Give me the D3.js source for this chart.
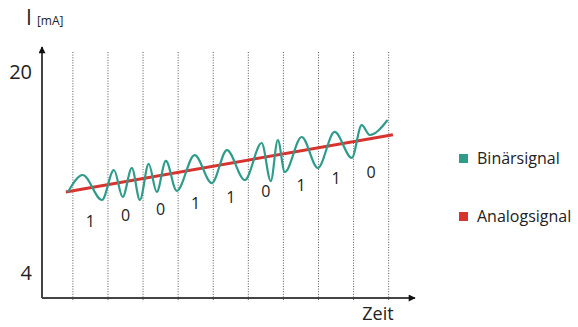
<!DOCTYPE html>
<html><head><meta charset="utf-8">
<script src="https://cdn.jsdelivr.net/npm/d3@7"></script>
<style>body{margin:0;background:#fff}svg{display:block}text{font-family:"Open Sans",sans-serif;fill:#222}</style>
</head><body>
<svg id="c" width="578" height="327"></svg>
<script>
// ---- data ----
const bits = [1, 0, 0, 1, 1, 0, 1, 1, 0];
const yTickValues = [4, 20];
const yTickLabels = ["4", "20"];
// analog signal: start/end (time in bit units, current in mA)
const analogT = [-0.2, 9.12];
const analogI = [10.45, 15.0];
// binary (FSK) signal: extrema (time in bit units, current in mA)
const waveT = [-0.14, 0.28, 0.83, 1.17, 1.42, 1.68, 1.91, 2.16, 2.39, 2.65, 2.96, 3.47, 3.96, 4.39, 4.90, 5.38, 5.64, 5.84, 6.04, 6.52, 6.98, 7.46, 7.95, 8.23, 8.46, 8.97];
const waveI = [10.45, 11.80, 9.81, 12.20, 10.05, 12.36, 9.81, 12.68, 10.45, 12.92, 10.53, 13.39, 11.16, 13.79, 11.40, 14.35, 11.32, 14.59, 12.04, 14.83, 12.36, 15.23, 13.16, 15.78, 14.99, 16.18];
const legendLabels = ["Binärsignal", "Analogsignal"];
const colors = {binary: "#2f9c8b", analog: "#d7332f", axis: "#444"};

// ---- scales ----
const svg = d3.select("#c");
const x = d3.scaleLinear().domain([-0.88, 9.75]).range([42, 415]);
const y = d3.scaleLinear().domain([2, 22]).range([298, 47]);

// arrow marker
const defs = svg.append("defs");
defs.append("marker").attr("id", "arr").attr("viewBox", "0 0 10 10")
  .attr("refX", 9).attr("refY", 5).attr("markerWidth", 10).attr("markerHeight", 7)
  .attr("markerUnits", "userSpaceOnUse").attr("orient", "auto")
  .append("path").attr("d", "M0,0L10,5L0,10Z").attr("fill", "#111");

// vertical dotted bit boundaries
const bounds = d3.range(bits.length + 1);
svg.append("g").selectAll("line").data(bounds).join("line")
  .attr("x1", d => x(d)).attr("x2", d => x(d))
  .attr("y1", y(21.6)).attr("y2", y(1.7))
  .attr("stroke", "#555").attr("stroke-width", 1).attr("stroke-dasharray", "1,1.6");

// axes
svg.append("line").attr("x1", x(-0.88)).attr("x2", x(-0.88)).attr("y1", y(2)).attr("y2", y(22))
  .attr("stroke", colors.axis).attr("stroke-width", 2).attr("marker-end", "url(#arr)");
svg.append("line").attr("x1", x(-0.88)).attr("x2", x(9.75)).attr("y1", y(2)).attr("y2", y(2))
  .attr("stroke", colors.axis).attr("stroke-width", 2).attr("marker-end", "url(#arr)");

// y tick labels
svg.append("g").selectAll("text").data(yTickValues).join("text")
  .attr("x", x(-0.88) - 10).attr("y", d => y(d)).attr("dy", "0.35em")
  .attr("text-anchor", "end").style("font-size", "20px").attr("fill", "#333")
  .text((d, i) => yTickLabels[i]);

// axis titles
const yt = svg.append("text").attr("x", 26).attr("y", 25).attr("fill", "#333");
yt.append("tspan").style("font-size", "21px").text("I");
yt.append("tspan").attr("dx", 5).style("font-size", "12px").text("[mA]");
svg.append("text").attr("x", 378).attr("y", 320).attr("text-anchor", "middle")
  .style("font-size", "18px").attr("fill", "#222").text("Zeit");

// analog line
const analog = analogT.map((t, i) => [t, analogI[i]]);
const analogAt = d3.scaleLinear().domain(analogT).range(analogI);
svg.append("path").attr("d", d3.line().x(d => x(d[0])).y(d => y(d[1]))(analog))
  .attr("fill", "none").attr("stroke", colors.analog).attr("stroke-width", 3);

// binary wave
const wave = waveT.map((t, i) => [t, waveI[i]]);
svg.append("path").attr("d", d3.line().x(d => x(d[0])).y(d => y(d[1])).curve(d3.curveMonotoneX)(wave))
  .attr("fill", "none").attr("stroke", colors.binary).attr("stroke-width", 2.2);

// bit labels
svg.append("g").selectAll("text").data(bits).join("text")
  .attr("x", (d, i) => x(i + 0.5)).attr("y", (d, i) => y(analogAt(i + 0.5)) + 34)
  .attr("dy", "0.35em").attr("text-anchor", "middle").style("font-size", "16px")
  .attr("fill", "#222").text(d => d);

// legend
const lg = svg.append("g").selectAll("g").data(legendLabels).join("g")
  .attr("transform", (d, i) => `translate(459,${154 + i * 58})`);
lg.append("rect").attr("width", 9).attr("height", 9)
  .attr("fill", (d, i) => i === 0 ? colors.binary : colors.analog);
lg.append("text").attr("x", 18).attr("y", 4.5).attr("dy", "0.35em")
  .style("font-size", "16px").attr("fill", "#222").text(d => d);
</script>
</body></html>
